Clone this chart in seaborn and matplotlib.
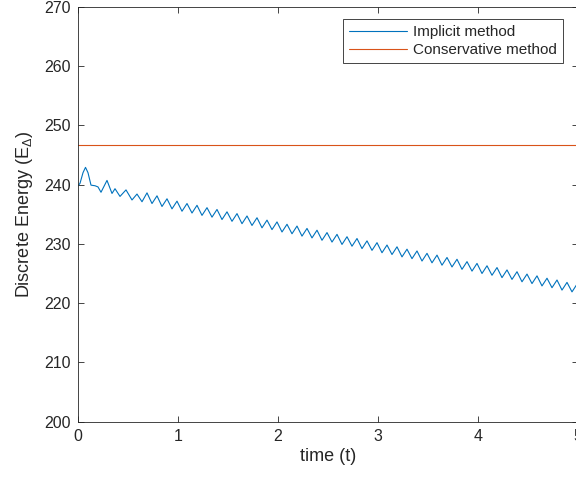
import seaborn as sns
import matplotlib.pyplot as plt

# Implicit method: start-up transient
t_start = [0.00, 0.02, 0.05, 0.075, 0.10, 0.13, 0.17, 0.20, 0.23, 0.29, 0.34, 0.37,
           0.42, 0.48, 0.54, 0.59, 0.64]
e_start = [239.8, 240.2, 242.0, 242.9, 242.0, 239.9, 239.8, 239.6, 238.7, 240.7, 238.5,
           239.3, 238.0, 239.1, 237.4, 238.4, 237.1]

# Implicit method: peaks and troughs of the oscillating decay
t_wave = [0.69, 0.74, 0.79, 0.84, 0.89, 0.94, 0.99, 1.04, 1.09, 1.14, 1.19, 1.24, 1.29,
          1.34, 1.39, 1.44, 1.49, 1.54, 1.59, 1.64, 1.69, 1.74, 1.79, 1.84, 1.89, 1.94,
          1.99, 2.04, 2.09, 2.14, 2.19, 2.24, 2.29, 2.34, 2.39, 2.44, 2.49, 2.54, 2.59,
          2.64, 2.69, 2.74, 2.79, 2.84, 2.89, 2.94, 2.99, 3.04, 3.09, 3.14, 3.19, 3.24,
          3.29, 3.34, 3.39, 3.44, 3.49, 3.54, 3.59, 3.64, 3.69, 3.74, 3.79, 3.84, 3.89,
          3.94, 3.99, 4.04, 4.09, 4.14, 4.19, 4.24, 4.29, 4.34, 4.39, 4.44, 4.49, 4.54,
          4.59, 4.64, 4.69, 4.74, 4.79, 4.84, 4.89, 4.94, 4.99]
e_wave = [238.6, 236.8, 238.1, 236.3, 237.6, 235.9, 237.2, 235.5, 236.8, 235.2, 236.5,
          234.8, 236.1, 234.5, 235.8, 234.1, 235.4, 233.8, 235.1, 233.4, 234.7, 233.1,
          234.4, 232.7, 234.0, 232.4, 233.7, 232.0, 233.3, 231.7, 233.0, 231.3, 232.6,
          231.0, 232.3, 230.6, 231.9, 230.3, 231.6, 229.9, 231.2, 229.6, 230.9, 229.2,
          230.5, 228.9, 230.2, 228.5, 229.8, 228.2, 229.5, 227.8, 229.1, 227.5, 228.8,
          227.1, 228.4, 226.8, 228.1, 226.4, 227.7, 226.1, 227.4, 225.7, 227.0, 225.4,
          226.7, 225.0, 226.3, 224.7, 226.0, 224.3, 225.6, 224.0, 225.3, 223.6, 224.9,
          223.3, 224.6, 222.9, 224.2, 222.6, 223.9, 222.2, 223.5, 221.9, 223.2]

# Conservative method: flat energy
t_cons = [0.0, 5.0]
e_cons = [246.6, 246.6]

x_ticks = [0, 1, 2, 3, 4, 5]
y_ticks = [200, 210, 220, 230, 240, 250, 260, 270]

sns.set_theme(style="ticks")
plt.rcParams["font.family"] = ["Liberation Sans", "DejaVu Sans"]
plt.rcParams["mathtext.fontset"] = "custom"
plt.rcParams["mathtext.rm"] = "Liberation Sans"
plt.rcParams["mathtext.it"] = "Liberation Sans"

fig = plt.figure(figsize=(5.76, 4.8), dpi=100)
ax = fig.add_axes([78 / 576, 58.3 / 480, 500 / 576, 415 / 480])

sns.lineplot(x=t_start + t_wave, y=e_start + e_wave, ax=ax, color="#0072BD",
             linewidth=0.8, label="Implicit method", solid_joinstyle="round")
sns.lineplot(x=t_cons, y=e_cons, ax=ax, color="#D95319",
             linewidth=0.8, label="Conservative method")

ax.set_xlim(0, 5)
ax.set_ylim(200, 270)
ax.set_xticks(x_ticks)
ax.set_yticks(y_ticks)
ax.tick_params(direction="in", length=4, width=0.6, top=True, right=True,
               labelsize=11.5, colors="#262626", pad=5)
for s in ax.spines.values():
    s.set_linewidth(0.6)
    s.set_color("#262626")

ax.set_xlabel("time (t)", fontsize=13, color="#262626", labelpad=3)
ax.set_ylabel("Discrete Energy (E$_{\\Delta}$)", fontsize=13, color="#262626", labelpad=7)

leg = ax.legend(loc="upper right", bbox_to_anchor=(0.97, 0.97), borderaxespad=0,
                fancybox=False, framealpha=1, edgecolor="#262626", fontsize=11,
                handlelength=3.8, handletextpad=0.4, borderpad=0.4, labelspacing=0.25)
leg.get_frame().set_linewidth(0.6)

fig.savefig("out.png", dpi=100)
